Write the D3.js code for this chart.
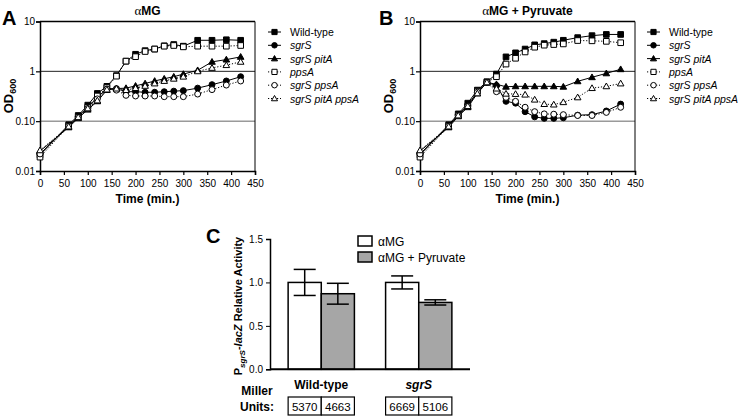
<!DOCTYPE html>
<html><head><meta charset="utf-8">
<script src="https://cdn.jsdelivr.net/npm/d3@7"></script>
<style>body{margin:0;background:#fff}svg{display:block;font-family:"Liberation Sans",Arial,sans-serif}</style>
</head><body>
<svg id="c" width="740" height="416"></svg>
<script>
// ---------- DATA ----------
const times = [0,60,80,100,120,140,160,180,200,220,240,260,280,300,330,360,390,420];
const seriesNames = ["Wild-type","sgrS","sgrS pitA","ppsA","sgrS ppsA","sgrS pitA ppsA"];
const xTicks = [0,50,100,150,200,250,300,350,400,450];
const yTicks = [0.01,0.1,1,10];
const yTickLabels = ["0.01","0.10","1","10"];

// Panel A (αMG)
const wtA       = [0.021,0.085,0.13,0.21,0.36,0.5,0.82,1.6,2.2,2.6,2.8,3.25,3.45,3.2,4.2,4.2,4.3,4.2];
const sgrSA     = [0.022,0.08,0.125,0.19,0.3,0.45,0.45,0.39,0.39,0.38,0.38,0.39,0.4,0.41,0.46,0.54,0.64,0.78];
const sgrSpitAA = [0.025,0.075,0.115,0.17,0.25,0.42,0.45,0.46,0.51,0.57,0.64,0.71,0.78,0.88,1.05,1.55,1.72,1.95];
const ppsAA     = [0.019,0.08,0.12,0.19,0.32,0.47,0.8,1.6,1.97,2.5,2.8,3.2,3.3,3.1,3.2,3.2,3.2,3.3];
const sgrSppsAA = [0.022,0.08,0.12,0.18,0.28,0.44,0.42,0.33,0.32,0.32,0.32,0.31,0.31,0.31,0.35,0.43,0.53,0.64];
const tripleA   = [0.026,0.078,0.12,0.18,0.26,0.43,0.45,0.42,0.46,0.51,0.57,0.64,0.71,0.78,1.0,1.17,1.33,1.55];

// Panel B (αMG + Pyruvate)
const wtB       = [0.021,0.085,0.14,0.23,0.42,0.62,0.88,1.95,2.35,2.8,3.4,3.6,3.85,4.2,4.75,5.2,5.5,5.5];
const sgrSB     = [0.022,0.08,0.135,0.21,0.38,0.6,0.52,0.25,0.23,0.155,0.122,0.114,0.114,0.117,0.132,0.135,0.16,0.22];
const sgrSpitAB = [0.025,0.075,0.125,0.19,0.36,0.6,0.55,0.49,0.5,0.5,0.5,0.5,0.5,0.49,0.63,0.76,0.91,1.1];
const ppsAB     = [0.019,0.08,0.13,0.2,0.4,0.6,0.78,1.4,1.83,2.45,3.05,3.35,3.45,3.55,4.15,4.1,4.0,3.75];
const sgrSppsAB = [0.022,0.08,0.13,0.2,0.38,0.6,0.39,0.3,0.25,0.19,0.155,0.14,0.138,0.135,0.13,0.13,0.15,0.19];
const tripleB   = [0.026,0.078,0.13,0.2,0.36,0.6,0.45,0.355,0.35,0.34,0.27,0.22,0.215,0.24,0.3,0.46,0.5,0.57];

// Panel C
const strains = ["Wild-type","sgrS"];
const conditions = ["αMG","αMG + Pyruvate"];
const activityAMG = [1.0, 1.0];
const activityPyr = [0.87, 0.77];
const errAMG = [0.15, 0.075];
const errPyr = [0.12, 0.03];
const millerAMG = [5370, 6669];
const millerPyr = [4663, 5106];
const cTicks = [0,0.5,1.0,1.5];

// ---------- STYLE ----------
const seriesStyle = [
  {shape:"square",   fill:true,  dash:null},
  {shape:"circle",   fill:true,  dash:null},
  {shape:"triangle", fill:true,  dash:null},
  {shape:"square",   fill:false, dash:"1.2,1.8"},
  {shape:"circle",   fill:false, dash:"1.2,1.8"},
  {shape:"triangle", fill:false, dash:"1.2,1.8"}
];
const symSize = {square:32, circle:28, triangle:19};
const symType = s => s==="square"?d3.symbolSquare:s==="circle"?d3.symbolCircle:d3.symbolTriangle;

const svg = d3.select("#c");

function italicName(sel, name){
  if(name === "Wild-type"){ sel.text(name); return; }
  sel.style("font-style","italic").text(name);
}

function growthPanel(cfg){
  const g = svg.append("g");
  const x = d3.scaleLinear().domain([0,450]).range([cfg.x0, cfg.x0+215]);
  const y = d3.scaleLog().domain([0.01,10]).range([171,21.5]);
  // gridlines
  g.selectAll("line.grid").data([0.1,1]).join("line")
    .attr("x1",x(0)).attr("x2",x(450)).attr("y1",d=>y(d)).attr("y2",d=>y(d))
    .attr("stroke",d=>d===1?"#222":"#666").attr("stroke-width",1);
  // frame top/right
  g.append("line").attr("x1",x(0)).attr("x2",x(450)).attr("y1",y(10)).attr("y2",y(10)).attr("stroke","#000").attr("stroke-width",1.5);
  g.append("line").attr("x1",x(450)).attr("x2",x(450)).attr("y1",y(10)).attr("y2",y(0.01)).attr("stroke","#000").attr("stroke-width",1);
  // axes
  const ax = d3.axisBottom(x).tickValues(xTicks).tickSize(4).tickFormat(d3.format("d"));
  const gx = g.append("g").attr("transform",`translate(0,${y(0.01)})`).call(ax);
  gx.select(".domain").attr("stroke-width",1.5);
  gx.selectAll(".tick line").attr("stroke-width",1.2);
  gx.selectAll("text").attr("font-size",10).attr("fill","#000").attr("dy","0.85em");
  const ay = d3.axisLeft(y).tickValues(yTicks).tickSize(4).tickFormat((d,i)=>yTickLabels[i]);
  const gy = g.append("g").attr("transform",`translate(${x(0)},0)`).call(ay);
  gy.select(".domain").attr("stroke-width",1.5);
  gy.selectAll(".tick line").attr("stroke-width",1.2);
  gy.selectAll("text").attr("font-size",10).attr("fill","#000").attr("x",-5);
  // series
  cfg.data.forEach((vals,si)=>{
    const st = seriesStyle[si];
    const pts = times.map((t,i)=>[t,vals[i]]);
    g.append("path").datum(pts)
      .attr("d", d3.line().x(d=>x(d[0])).y(d=>y(d[1])))
      .attr("fill","none").attr("stroke","#000").attr("stroke-width",1)
      .attr("stroke-dasharray", st.dash);
  });
  cfg.data.forEach((vals,si)=>{
    const st = seriesStyle[si];
    const sym = d3.symbol().type(symType(st.shape)).size(symSize[st.shape]);
    g.selectAll(null).data(times.map((t,i)=>[t,vals[i]])).join("path")
      .attr("d",sym).attr("transform",d=>`translate(${x(d[0])},${y(d[1])+(st.shape==="triangle"?0.5:0)})`)
      .attr("fill",st.fill?"#000":"#fff").attr("stroke","#000").attr("stroke-width",1);
  });
  // labels
  g.append("text").attr("x",(x(0)+x(450))/2).attr("y",203).attr("text-anchor","middle")
    .attr("font-size",12).attr("font-weight","bold").text("Time (min.)");
  const yl = g.append("text").attr("transform",`translate(${cfg.x0-27},96) rotate(-90)`)
    .attr("text-anchor","middle").attr("font-size",13).attr("font-weight","bold");
  yl.append("tspan").text("OD");
  yl.append("tspan").attr("font-size",9).attr("dy",3).text("600");
  const title = g.append("text").attr("x",(x(0)+x(450))/2).attr("y",15).attr("text-anchor","middle")
    .attr("font-size",12).attr("font-weight","bold");
  title.append("tspan").attr("font-family","'Liberation Serif',serif").attr("font-weight","normal").attr("font-size",13).text("α");
  title.append("tspan").text(cfg.title.slice(1));
  g.append("text").attr("x",cfg.letterX).attr("y",25).attr("font-size",20).attr("font-weight","bold").text(cfg.letter);
  // legend
  const lg = g.append("g");
  seriesNames.forEach((n,i)=>{
    const st = seriesStyle[i];
    const yy = 32 + i*13.3;
    lg.append("line").attr("x1",cfg.legX).attr("x2",cfg.legX+13).attr("y1",yy).attr("y2",yy)
      .attr("stroke","#000").attr("stroke-width",1).attr("stroke-dasharray",st.dash);
    const sym = d3.symbol().type(symType(st.shape)).size(symSize[st.shape]*0.85);
    lg.append("path").attr("d",sym).attr("transform",`translate(${cfg.legX+6.5},${yy+(st.shape==="triangle"?0.5:0)})`)
      .attr("fill",st.fill?"#000":"#fff").attr("stroke","#000").attr("stroke-width",1);
    lg.append("text").attr("x",cfg.legX+22).attr("y",yy+4).attr("font-size",10.5).call(s=>italicName(s,n));
  });
}

growthPanel({x0:40, letter:"A", letterX:2, title:"αMG", legX:268,
  data:[wtA,sgrSA,sgrSpitAA,ppsAA,sgrSppsAA,tripleA]});
growthPanel({x0:420, letter:"B", letterX:379, title:"αMG + Pyruvate", legX:647,
  data:[wtB,sgrSB,sgrSpitAB,ppsAB,sgrSppsAB,tripleB]});

// ---------- Panel C ----------
(function(){
  const g = svg.append("g");
  const yC = d3.scaleLinear().domain([0,1.5]).range([369.3,239]);
  const xC = d3.scaleBand().domain(strains).range([270,470]).paddingInner(0.32).paddingOuter(0.186);
  const xIn = d3.scaleBand().domain(conditions).range([0,xC.bandwidth()]);
  const fills = ["#fff","#a6a6a6"];
  const vals = [activityAMG, activityPyr];
  const errs = [errAMG, errPyr];
  const miller = [millerAMG, millerPyr];
  strains.forEach((s,si)=>{
    conditions.forEach((c,ci)=>{
      const x0 = xC(s)+xIn(c), w = xIn.bandwidth(), v = vals[ci][si], e = errs[ci][si];
      g.append("rect").attr("x",x0).attr("y",yC(v)).attr("width",w).attr("height",yC(0)-yC(v))
        .attr("fill",fills[ci]).attr("stroke","#000").attr("stroke-width",1.5);
      const cx = x0+w/2;
      g.append("line").attr("x1",cx).attr("x2",cx).attr("y1",yC(v+e)).attr("y2",yC(v-e)).attr("stroke","#000").attr("stroke-width",1.5);
      [v+e,v-e].forEach(b=>g.append("line").attr("x1",cx-11).attr("x2",cx+11).attr("y1",yC(b)).attr("y2",yC(b)).attr("stroke","#000").attr("stroke-width",1.5));
      g.append("rect").attr("x",x0).attr("y",397).attr("width",w).attr("height",18)
        .attr("fill","#fff").attr("stroke","#000").attr("stroke-width",1.2);
      g.append("text").attr("x",cx).attr("y",410.5).attr("text-anchor","middle").attr("font-size",11.5).text(miller[ci][si]);
    });
    g.append("text").attr("x",xC(s)+xC.bandwidth()/2).attr("y",389).attr("text-anchor","middle")
      .attr("font-size",12).attr("font-weight","bold").style("font-style",si===1?"italic":"normal").text(s);
  });
  const ay = d3.axisLeft(yC).tickValues(cTicks).tickSize(4).tickFormat(d3.format(".1f"));
  const gy = g.append("g").attr("transform","translate(270,0)").call(ay);
  gy.select(".domain").attr("stroke-width",1.5);
  gy.selectAll("text").attr("font-size",10).attr("fill","#000");
  g.append("line").attr("x1",270).attr("x2",470).attr("y1",yC(0)).attr("y2",yC(0)).attr("stroke","#000").attr("stroke-width",2);
  // y label
  const yl = g.append("text").attr("transform","translate(242,306) rotate(-90)").attr("text-anchor","middle")
    .attr("font-size",11).attr("font-weight","bold");
  yl.append("tspan").text("P");
  yl.append("tspan").attr("font-size",8).attr("dy",3).style("font-style","italic").text("sgrS");
  yl.append("tspan").attr("dy",-3).text("-");
  yl.append("tspan").style("font-style","italic").text("lacZ");
  yl.append("tspan").text(" Relative Activity");
  g.append("text").attr("x",206).attr("y",243).attr("font-size",20).attr("font-weight","bold").text("C");
  // Miller label
  g.append("text").attr("x",257).attr("y",395).attr("text-anchor","middle").attr("font-size",12).attr("font-weight","bold").text("Miller");
  g.append("text").attr("x",257).attr("y",411).attr("text-anchor","middle").attr("font-size",12).attr("font-weight","bold").text("Units:");
  // legend
  conditions.forEach((c,i)=>{
    const yy = 236 + i*16;
    g.append("rect").attr("x",358).attr("y",yy).attr("width",14).attr("height",10)
      .attr("fill",fills[i]).attr("stroke","#000").attr("stroke-width",1.5);
    g.append("text").attr("x",378).attr("y",yy+9.5).attr("font-size",12).text(c);
  });
})();
</script>
</body></html>
